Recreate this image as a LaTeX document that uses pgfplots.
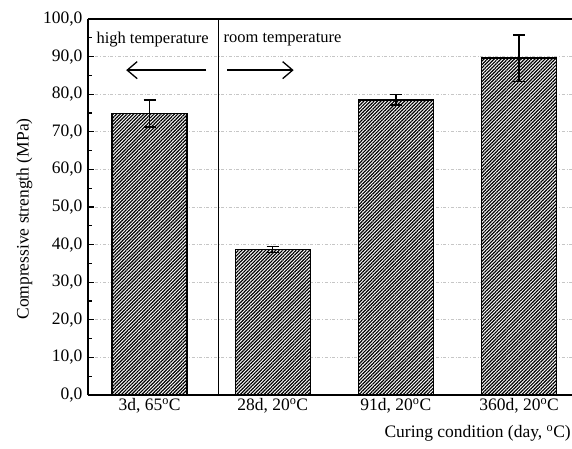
\documentclass[border=0pt]{standalone}
\usepackage{pgfplots}
\pgfplotsset{compat=1.18}
\usepackage{fontspec}
\setmainfont{Liberation Serif}
\usetikzlibrary{patterns.meta,arrows.meta}

\begin{document}
\begin{tikzpicture}
\begin{axis}[
    scale only axis,
    width=484pt, height=376pt,
    ybar, bar width=75pt,
    xmin=-0.5, xmax=3.43,
    ymin=0, ymax=100,
    axis x line=box, axis y line=left,
    axis line style={line width=1.3pt, -},
    xtick={0,1,2,3},
    xticklabels={{3d, 65\textsuperscript{o}C},{28d, 20\textsuperscript{o}C},{91d, 20\textsuperscript{o}C},{360d, 20\textsuperscript{o}C}},
    x tick style={draw=none},
    ytick={0,10,...,100},
    minor y tick num=1,
    y tick style={line width=1.2pt, black},
    tick align=inside,
    major tick length=6pt, minor tick length=4pt,
    ymajorgrids,
    grid style={gray!45, dash dot, line width=0.8pt},
    tick label style={font=\fontsize{17.5}{20}\selectfont},
    yticklabel style={xshift=-2pt, /pgf/number format/.cd, fixed, fixed zerofill, precision=1, use comma, assume math mode=true},
    ylabel={Compressive strength (MPa)},
    ylabel style={font=\fontsize{17.5}{20}\selectfont, at={(axis description cs:0,0.5)}, anchor=south, yshift=52pt, xshift=-12pt},
    xlabel={Curing condition (day, \textsuperscript{o}C)},
    xlabel style={font=\fontsize{17.5}{20}\selectfont, at={(axis description cs:1,0)}, anchor=north east, inner xsep=1pt, yshift=-27pt},
]
\addplot[draw=black, line width=1.4pt, fill=white,
    postaction={pattern={Lines[angle=45, distance=2.4pt, line width=1.2pt]}, pattern color=black},
    error bars/.cd, y dir=both, y explicit,
    error bar style={line width=1.5pt, black},
    error mark options={rotate=90, mark size=6pt, line width=1.5pt}]
coordinates {
    (0,74.9) +- (0,3.6)
    (1,38.7) +- (0,0.8)
    (2,78.5) +- (0,1.4)
    (3,89.6) +- (0,6.2)
};
\draw[line width=1.6pt] (axis cs:0.56,0) -- (axis cs:0.56,100);
\draw[line width=1.3pt, -{Straight Barb[length=10pt, width=17pt, line width=1.3pt]}] (axis cs:0.46,86.4) -- (axis cs:-0.19,86.4);
\draw[line width=1.3pt, -{Straight Barb[length=10pt, width=17pt, line width=1.3pt]}] (axis cs:0.63,86.4) -- (axis cs:1.17,86.4);
\node[font=\fontsize{16.5}{19}\selectfont] at (axis cs:0.025,94.6) {high temperature};
\node[font=\fontsize{16.5}{19}\selectfont] at (axis cs:1.08,94.6) {room temperature};
\end{axis}
\pgfresetboundingbox
\useasboundingbox ([xshift=-88pt,yshift=-53pt]current axis.south west) rectangle ([yshift=19pt]current axis.north east);
\end{tikzpicture}
\end{document}
